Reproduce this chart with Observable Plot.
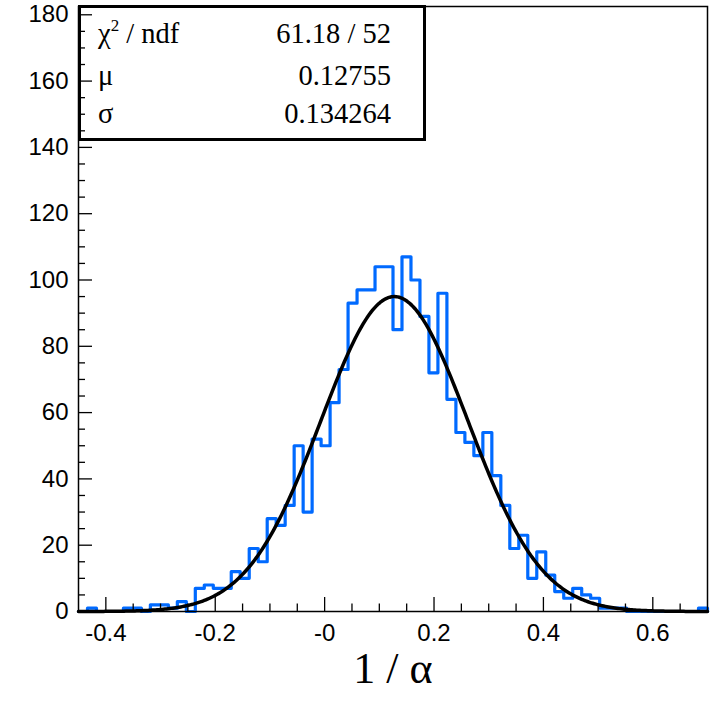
<!DOCTYPE html>
<html>
<head>
<meta charset="utf-8">
<script src="https://cdn.jsdelivr.net/npm/d3@7"></script>
<script src="https://cdn.jsdelivr.net/npm/@observablehq/plot@0.6"></script>
<style>
  html, body { margin: 0; padding: 0; background: #fff; }
  #chart { width: 714px; height: 714px; }
</style>
</head>
<body>
<div id="chart"></div>
<script>
// ---- data ----
const binStart = -0.45;
const binEnd = 0.7;
const counts = [
  0, 1, 0, 0, 0, 1, 1, 0, 2, 2,
  1, 3, 0, 7, 8, 7, 7, 12, 10, 19,
  15, 28, 26, 32, 50, 30, 52, 50, 63, 73,
  93, 97, 97, 104, 104, 85, 107, 100, 89, 72,
  96, 64, 54, 51, 47, 54, 41, 32, 19, 23,
  10, 18, 11, 6, 4, 7, 5, 4, 1, 1,
  1, 0, 0, 0, 0, 0, 0, 0, 0, 1
];
const fitConstant = 95;
const fitMean = 0.12755;
const fitSigma = 0.134264;

const xMajorTicks = [-0.4, -0.2, 0, 0.2, 0.4, 0.6];
const xTickLabels = ["-0.4", "-0.2", "-0", "0.2", "0.4", "0.6"];
const xMinorTicks = [-0.35, -0.3, -0.25, -0.15, -0.1, -0.05, 0.05, 0.1, 0.15, 0.25, 0.3, 0.35, 0.45, 0.5, 0.55, 0.65];
const yMajorTicks = [0, 20, 40, 60, 80, 100, 120, 140, 160, 180];
const yMinorTicks = [5, 10, 15, 25, 30, 35, 45, 50, 55, 65, 70, 75, 85, 90, 95, 105, 110, 115, 125, 130, 135, 145, 150, 155, 165, 170, 175];
const xTitle = "1 / α";
const statsLabels = ["χ² / ndf", "μ", "σ"];
const statsValues = ["61.18 / 52", "0.12755", "0.134264"];

// ---- derived tables ----
const binWidth = (binEnd - binStart) / counts.length;
const stepData = [{x: binStart, y: 0}]
  .concat(counts.map((c, i) => ({x: binStart + i * binWidth, y: c})))
  .concat([{x: binEnd, y: counts[counts.length - 1]}, {x: binEnd, y: 0}]);
const nSamples = 400;
const fitData = d3.range(nSamples + 1).map(i => {
  const x = binStart + i * (binEnd - binStart) / nSamples;
  return {x, y: fitConstant * Math.exp(-0.5 * ((x - fitMean) / fitSigma) ** 2)};
});

// ---- layout ----
const W = 714, H = 714;
const mTop = 6, mBottom = 103, mLeft = 78, mRight = 7;
const frameW = W - mLeft - mRight, frameH = H - mTop - mBottom;
const blue = "#006aff";

const svg = Plot.plot({
  width: W,
  height: H,
  marginTop: mTop,
  marginBottom: mBottom,
  marginLeft: mLeft,
  marginRight: mRight,
  style: {fontFamily: "'Liberation Sans', Arial, sans-serif", fontSize: "24px", background: "#fff", overflow: "visible"},
  x: {domain: [binStart, binEnd]},
  y: {domain: [0, 182.5]},
  marks: [
    Plot.axisX({ticks: xMajorTicks, tickSize: 0, tickPadding: 12, tickFormat: (d, i) => xTickLabels[i], label: null, fontSize: 24}),
    Plot.axisY({ticks: yMajorTicks, tickSize: 0, tickPadding: 10, label: null, fontSize: 24}),
    Plot.line(stepData, {x: "x", y: "y", curve: "step-after", stroke: blue, strokeWidth: 3.2}),
    Plot.line(fitData, {x: "x", y: "y", stroke: "black", strokeWidth: 3.5}),
    Plot.tickX(xMajorTicks, {x: d => d, stroke: "black", strokeWidth: 1.3, insetTop: frameH - 14}),
    Plot.tickX(xMinorTicks, {x: d => d, stroke: "black", strokeWidth: 1.3, insetTop: frameH - 7.5}),
    Plot.tickY(yMajorTicks, {y: d => d, stroke: "black", strokeWidth: 1.3, insetRight: frameW - 14}),
    Plot.tickY(yMinorTicks, {y: d => d, stroke: "black", strokeWidth: 1.3, insetRight: frameW - 7}),
    Plot.frame({stroke: "black", strokeWidth: 1.5}),
    Plot.text([xTitle], {text: d => d, frameAnchor: "bottom", dy: 71, fontSize: 44, fontFamily: "'Liberation Serif', 'Times New Roman', serif"})
  ]
});

// ---- stats box (legend) ----
const box = d3.select(svg).insert("g", "g");
box.append("rect")
  .attr("x", 79.5).attr("y", 6.5).attr("width", 345).attr("height", 133)
  .attr("fill", "white").attr("stroke", "black").attr("stroke-width", 3);
const rowY = [43, 85, 123];
const serif = "'Liberation Serif', 'Times New Roman', serif";
statsLabels.forEach((lab, i) => {
  const t = box.append("text").attr("x", 98).attr("y", rowY[i]).attr("text-anchor", "start")
    .attr("font-family", serif).attr("font-size", 28.5).attr("fill", "black");
  if (lab.includes("²")) {
    const [a, b] = lab.split("²");
    t.append("tspan").text(a);
    t.append("tspan").attr("font-size", 17).attr("dy", -12).text("2");
    t.append("tspan").attr("dy", 12).text(b);
  } else {
    t.text(lab);
  }
  box.append("text").attr("x", 391).attr("y", rowY[i]).attr("text-anchor", "end")
    .attr("font-family", serif).attr("font-size", 28.5).attr("fill", "black").text(statsValues[i]);
});

document.getElementById("chart").appendChild(svg);
</script>
</body>
</html>
